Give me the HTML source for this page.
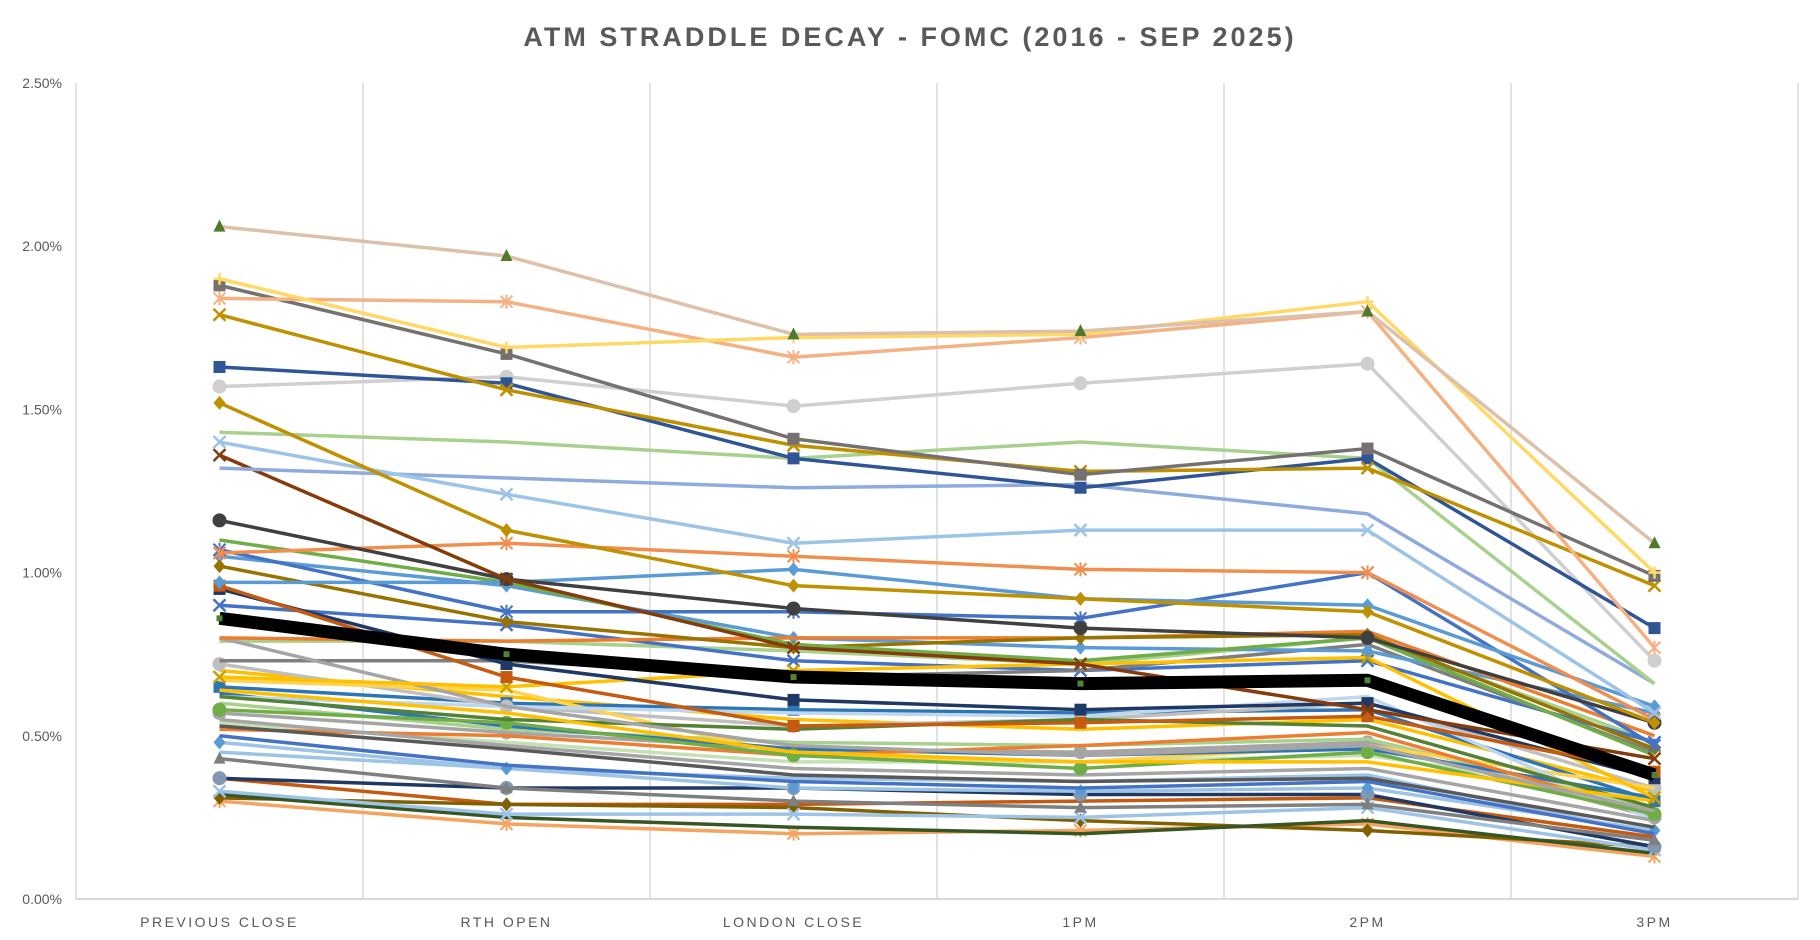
<!DOCTYPE html>
<html><head><meta charset="utf-8"><style>
html,body{margin:0;padding:0;background:#fff;}
svg{display:block;font-family:"Liberation Sans",sans-serif;}
</style></head><body>
<svg id="chart" width="1820" height="940" viewBox="0 0 1820 940" xmlns="http://www.w3.org/2000/svg">
<text x="910" y="46" text-anchor="middle" font-size="27" font-weight="bold" fill="#595959" letter-spacing="3">ATM STRADDLE DECAY - FOMC (2016 - SEP 2025)</text>
<g id="grid"></g><g id="series"></g><g id="axes"></g>
</svg>
<script>
const categories=["PREVIOUS CLOSE","RTH OPEN","LONDON CLOSE","1PM","2PM","3PM"];
const yTicks=[0,0.5,1.0,1.5,2.0,2.5];
const yTickLabels=["0.00%","0.50%","1.00%","1.50%","2.00%","2.50%"];
const s01=[2.06,1.97,1.73,1.74,1.80,1.09];
const s02=[1.90,1.69,1.72,1.73,1.83,1.00];
const s03=[1.84,1.83,1.66,1.72,1.80,0.77];
const s04=[1.88,1.67,1.41,1.30,1.38,0.99];
const s05=[1.79,1.56,1.39,1.31,1.32,0.96];
const s06=[1.63,1.58,1.35,1.26,1.35,0.83];
const s07=[1.57,1.60,1.51,1.58,1.64,0.73];
const s08=[1.52,1.13,0.96,0.92,0.88,0.54];
const s09=[1.43,1.40,1.35,1.40,1.35,0.66];
const s10=[1.40,1.24,1.09,1.13,1.13,0.57];
const s11=[1.32,1.29,1.26,1.27,1.18,0.66];
const s12=[1.36,0.98,0.77,0.72,0.58,0.43];
const s13=[1.16,0.98,0.89,0.83,0.80,0.54];
const s14=[1.06,1.09,1.05,1.01,1.00,0.55];
const s15=[0.97,0.97,1.01,0.92,0.90,0.59];
const s16=[1.07,0.88,0.88,0.86,1.00,0.47];
const s17=[1.10,0.97,0.78,0.73,0.80,0.44];
const s18=[1.02,0.85,0.77,0.80,0.81,0.46];
const s19=[0.96,0.68,0.53,0.54,0.56,0.39];
const s20=[0.95,0.72,0.61,0.58,0.60,0.37];
const s21=[0.80,0.79,0.80,0.80,0.82,0.50];
const s22=[1.05,0.96,0.80,0.77,0.76,0.57];
const s23=[0.68,0.65,0.70,0.72,0.74,0.31];
const s24=[0.80,0.59,0.47,0.44,0.47,0.27];
const s25=[0.73,0.73,0.68,0.70,0.78,0.45];
const s26=[0.64,0.57,0.45,0.42,0.42,0.30];
const s27=[0.62,0.55,0.52,0.55,0.53,0.28];
const s28=[0.58,0.54,0.44,0.40,0.45,0.26];
const s29=[0.55,0.47,0.40,0.38,0.40,0.24];
const s30=[0.53,0.46,0.38,0.36,0.37,0.22];
const s31=[0.50,0.41,0.36,0.34,0.36,0.20];
const s32=[0.48,0.40,0.34,0.33,0.34,0.21];
const s33=[0.43,0.34,0.30,0.28,0.29,0.18];
const s34=[0.37,0.34,0.34,0.32,0.32,0.16];
const s35=[0.33,0.26,0.26,0.25,0.28,0.15];
const s36=[0.32,0.25,0.22,0.20,0.24,0.14];
const s37=[0.31,0.29,0.28,0.24,0.21,0.16];
const s38=[0.30,0.23,0.20,0.21,0.23,0.13];
const s39=[0.37,0.29,0.29,0.30,0.31,0.19];
const s40=[0.52,0.50,0.44,0.47,0.51,0.26];
const s41=[0.90,0.84,0.73,0.70,0.73,0.48];
const s42=[0.62,0.59,0.57,0.56,0.62,0.24];
const s43=[0.63,0.53,0.46,0.44,0.46,0.31];
const s44=[0.67,0.64,0.44,0.42,0.47,0.34];
const s45=[0.54,0.48,0.42,0.42,0.44,0.31];
const s46=[0.72,0.59,0.53,0.55,0.60,0.34];
const s47=[0.79,0.79,0.76,0.72,0.80,0.48];
const s48=[0.65,0.60,0.58,0.57,0.58,0.30];
const s49=[0.60,0.52,0.48,0.47,0.49,0.28];
const s50=[0.70,0.62,0.55,0.52,0.55,0.33];
const s51=[0.57,0.51,0.46,0.45,0.48,0.25];
const s52=[0.45,0.40,0.37,0.36,0.38,0.20];
const average=[0.86,0.75,0.68,0.66,0.67,0.38];
const seriesList=[
[s01,"#dcc0aa","tri","#4e7a2a"],[s02,"#ffd966","plus","#ffd966"],[s03,"#f4b183","star","#f4b183"],
[s04,"#767171","sq","#767171"],[s05,"#bf9000","x","#bf9000"],[s06,"#2f5597","sq","#2f5597"],
[s07,"#d0cece","circ","#d0cece"],[s08,"#bf9000","dia","#bf9000"],[s09,"#a9d18e","none",""],
[s10,"#9dc3e6","x","#9dc3e6"],[s11,"#8faadc","none",""],[s12,"#843c0c","x","#843c0c"],
[s13,"#404040","circ","#404040"],[s14,"#f08e4f","star","#f08e4f"],[s15,"#5b9bd5","dia","#5b9bd5"],
[s16,"#4472c4","star","#4472c4"],[s17,"#70ad47","none",""],[s18,"#997300","dia","#997300"],
[s19,"#c55a11","sq","#c55a11"],[s20,"#203864","sq","#203864"],[s21,"#ed7d31","none",""],
[s22,"#5b9bd5","dia","#5b9bd5"],[s23,"#ffc000","x","#c9a000"],[s24,"#a5a5a5","none",""],
[s25,"#7f7f7f","none",""],[s26,"#ffc000","none",""],[s27,"#548235","none",""],
[s28,"#70ad47","circ","#70ad47"],[s29,"#a5a5a5","none",""],[s30,"#595959","none",""],
[s31,"#4472c4","none",""],[s32,"#9dc3e6","dia","#5b9bd5"],[s33,"#7f7f7f","tri","#7f7f7f"],
[s34,"#203864","circ","#8497b0"],[s35,"#9dc3e6","x","#9dc3e6"],[s36,"#375623","none",""],
[s37,"#806000","dia","#806000"],[s38,"#f4a460","star","#f4a460"],[s39,"#c55a11","none",""],
[s40,"#ed7d31","none",""],[s41,"#4472c4","x","#4472c4"],[s42,"#bdd7ee","none",""],
[s43,"#2e75b6","none",""],[s44,"#ffd34d","none",""],[s45,"#c5e0b4","none",""],
[s46,"#bfbfbf","circ","#bfbfbf"],[s47,"#a9d18e","none",""],
[s48,"#2e75b6","sq","#2e75b6"],[s49,"#a9d18e","none",""],[s50,"#ffc000","none",""],
[s51,"#a5a5a5","circ","#a5a5a5"],[s52,"#9dc3e6","none",""]
];
const NS="http://www.w3.org/2000/svg";
const L=76,R=1798,T=83,B=899,YMAX=2.5;
const bw=(R-L)/categories.length;
const xS=i=>L+bw*(i+0.5);
const yS=v=>B-(v/YMAX)*(B-T);
function mk(tag,attrs,parent){const e=document.createElementNS(NS,tag);for(const k in attrs)e.setAttribute(k,attrs[k]);parent.appendChild(e);return e;}
const grid=document.getElementById('grid'),axes=document.getElementById('axes'),sg=document.getElementById('series');
for(let i=0;i<=categories.length;i++){
 const g=mk('line',{x1:L+bw*i,x2:L+bw*i,y1:T,y2:B,stroke:'#d9d9d9','stroke-width':1.5},grid);
 
 
}
const ax=mk('line',{x1:L,x2:R,y1:B,y2:B,stroke:'#d9d9d9','stroke-width':2},axes);


yTicks.forEach((v,i)=>{
 const t=mk('text',{x:62,y:yS(v)+5,'text-anchor':'end','font-size':14,fill:'#595959'},axes);
 t.textContent=yTickLabels[i];
 
 
});
categories.forEach((c,i)=>{
 const t=mk('text',{x:xS(i),y:927,'text-anchor':'middle','font-size':14,fill:'#595959','letter-spacing':2.5},axes);
 t.textContent=c;
 
 
});
function marker(shape,x,y,col,parent){
 let e;const s=6;
 if(shape==='tri')e=mk('polygon',{points:`${x},${y-s-1} ${x-s},${y+s-1} ${x+s},${y+s-1}`,fill:col},parent);
 else if(shape==='sq')e=mk('rect',{x:x-s,y:y-s,width:2*s,height:2*s,fill:col},parent);
 else if(shape==='circ')e=mk('circle',{cx:x,cy:y,r:s+1,fill:col},parent);
 else if(shape==='dia')e=mk('polygon',{points:`${x},${y-s-1} ${x+s},${y} ${x},${y+s+1} ${x-s},${y}`,fill:col},parent);
 else if(shape==='x')e=mk('path',{d:`M${x-s} ${y-s}L${x+s} ${y+s}M${x+s} ${y-s}L${x-s} ${y+s}`,stroke:col,'stroke-width':2.5},parent);
 else if(shape==='star')e=mk('path',{d:`M${x-s} ${y-s}L${x+s} ${y+s}M${x+s} ${y-s}L${x-s} ${y+s}M${x} ${y-s-1}L${x} ${y+s+1}`,stroke:col,'stroke-width':2},parent);
 else if(shape==='plus')e=mk('path',{d:`M${x-s} ${y}L${x+s} ${y}M${x} ${y-s}L${x} ${y+s}`,stroke:col,'stroke-width':2.5},parent);
 if(e){
 }
}
const drawOrder=seriesList.slice().reverse();
drawOrder.forEach(s=>{
 const [vals,col,shape,mcol]=s;
 const g=mk('g',{},sg);
 
 
 const pts=vals.map((v,i)=>xS(i)+','+yS(v)).join(' ');
 mk('polyline',{points:pts,fill:'none',stroke:col,'stroke-width':3.5,'stroke-linejoin':'round'},g);
 if(shape!=='none')vals.forEach((v,i)=>marker(shape,xS(i),yS(v),mcol,g));
});
const avg=mk('polyline',{points:average.map((v,i)=>xS(i)+','+yS(v)).join(' '),fill:'none',stroke:'#000','stroke-width':13,'stroke-linejoin':'round'},sg);


average.forEach((v,i)=>{
 const m=mk('rect',{x:xS(i)-3,y:yS(v)-3,width:6,height:6,fill:'#548235'},sg);
 
 
});
</script>
</body></html>
